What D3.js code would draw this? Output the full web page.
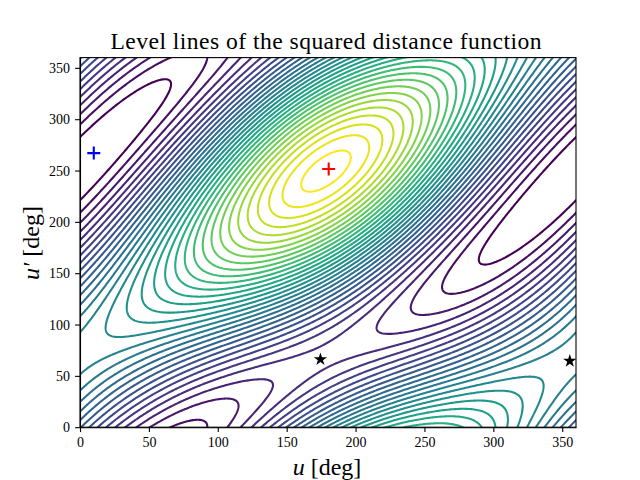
<!DOCTYPE html>
<html>
<head>
<meta charset="utf-8">
<script src="https://cdn.jsdelivr.net/npm/d3@7"></script>
<style>
    body { margin: 0; background: #fff; }
    svg { display: block; }
    text { font-family: "Liberation Serif", serif; fill: #000; }
    .tick text { font-size: 14px; }
    .domain, .tick line { stroke: #000; stroke-width: 1.1px; }
</style>
</head>
<body>
<svg id="chart" width="640" height="480"></svg>
<script>
// function level at every 30 deg, one row per u'
const uSamples = [0, 30, 60, 90, 120, 150, 180, 210, 240, 270, 300, 330];
const vSamples = [0, 30, 60, 90, 120, 150, 180, 210, 240, 270, 300, 330];
const levelRows = [
    [10.1, 5.4, 2.3, 1.9, 4.4, 9.0, 14.3, 18.7, 21.2, 21.4, 19.2, 15.1],
    [13.5, 9.7, 5.9, 3.6, 3.3, 5.0, 8.2, 11.7, 14.8, 16.9, 17.5, 16.4],
    [15.3, 13.6, 10.7, 7.7, 5.5, 4.6, 4.9, 6.4, 8.6, 11.4, 13.9, 15.4],
    [15.1, 16.1, 15.4, 13.3, 10.6, 7.8, 5.5, 4.2, 4.3, 6.1, 9.1, 12.5],
    [12.9, 16.6, 18.7, 18.9, 17.1, 13.9, 9.7, 5.7, 3.0, 2.6, 4.6, 8.5],
    [9.3, 14.9, 19.8, 22.8, 23.3, 21.1, 16.5, 10.6, 5.1, 1.8, 1.6, 4.4],
    [5.3, 11.4, 18.3, 24.1, 27.6, 27.6, 23.9, 17.4, 10.0, 3.9, 0.7, 1.3],
    [1.9, 7.2, 14.6, 22.5, 28.7, 31.5, 30.0, 24.5, 16.4, 8.3, 2.3, 0.1],
    [0.1, 3.2, 9.8, 18.3, 26.4, 32.0, 33.3, 29.8, 22.6, 13.9, 6.0, 1.0],
    [0.3, 0.7, 5.2, 12.7, 21.3, 28.7, 32.7, 32.0, 26.9, 19.1, 10.7, 3.9],
    [2.5, 0.2, 1.9, 7.2, 14.8, 22.7, 28.5, 30.4, 28.2, 22.6, 15.2, 8.0],
    [6.1, 2.0, 0.8, 3.2, 8.6, 15.5, 21.7, 25.6, 26.1, 23.4, 18.3, 12.1]
];
const contourLevels = d3.range(1, 34);
const xTicks = [0, 50, 100, 150, 200, 250, 300, 350];
const yTicks = [0, 50, 100, 150, 200, 250, 300, 350];
const plusMarks = [
    { u: 10, v: 267, color: '#0000ff' },
    { u: 180.5, v: 251.5, color: '#ff0000' }
];
const starMarks = [
    { u: 174.5, v: 66 },
    { u: 355.5, v: 64.5 }
];

const plot = { left: 80, right: 576, top: 57.6, bottom: 427.2 };
const x = d3.scaleLinear().domain([0, 360]).range([plot.left, plot.right]);
const y = d3.scaleLinear().domain([0, 360]).range([plot.bottom, plot.top]);
const svg = d3.select('#chart');

// periodic resampling of the 30 deg estimates, so that the level lines come out smooth
const overshoot = 5;
const fineAngles = d3.range(-overshoot, 360 + overshoot + 1);
const rad = Math.PI / 180;

const resample = (samples, angles, outAngles) => {
    const n = samples.length;
    const terms = [1, 2].map((k) => ({
        k,
        a: 2 / n * d3.sum(samples, (s, i) => s * Math.cos(k * angles[i] * rad)),
        b: 2 / n * d3.sum(samples, (s, i) => s * Math.sin(k * angles[i] * rad))
    }));
    const mean = d3.mean(samples);
    return outAngles.map((t) => mean + d3.sum(terms, ({ k, a, b }) => a * Math.cos(k * t * rad) + b * Math.sin(k * t * rad)));
};

const fineRows = levelRows.map((row) => resample(row, uSamples, fineAngles));
const fineColumns = fineAngles.map((_, i) => resample(fineRows.map((row) => row[i]), vSamples, fineAngles));
const fineValues = [];
fineAngles.forEach((_, j) => fineAngles.forEach((_, i) => fineValues.push(fineColumns[i][j])));

const contours = d3.contours()
    .size([fineAngles.length, fineAngles.length])
    .thresholds(contourLevels)(fineValues);

const color = d3.scaleSequential(d3.interpolateViridis).domain([1, 33]);

// contour coordinates sit half a cell off the samples
const line = d3.line()
    .x((d) => x(d[0] - 0.5 - overshoot))
    .y((d) => y(d[1] - 0.5 - overshoot));

svg.append('clipPath')
    .attr('id', 'plot-clip')
    .append('rect')
    .attr('x', plot.left)
    .attr('y', plot.top)
    .attr('width', plot.right - plot.left)
    .attr('height', plot.bottom - plot.top);

svg.append('g')
    .attr('clip-path', 'url(#plot-clip)')
    .attr('fill', 'none')
    .attr('stroke-width', 2.08)
    .selectAll('path')
    .data(contours)
    .enter()
    .append('path')
    .attr('stroke', ({ value }) => color(value))
    .attr('d', ({ coordinates }) => coordinates.flat().map((ring) => line(ring)).join(''));

// markers
const marks = svg.append('g');
marks.selectAll('.plus')
    .data(plusMarks)
    .enter()
    .append('path')
    .attr('class', 'plus')
    .attr('d', 'M-6.5,0H6.5M0,-6.5V6.5')
    .attr('fill', 'none')
    .attr('stroke', ({ color }) => color)
    .attr('stroke-width', 2.1)
    .attr('transform', ({ u, v }) => `translate(${x(u)}, ${y(v)})`);

marks.selectAll('.star')
    .data(starMarks)
    .enter()
    .append('path')
    .attr('class', 'star')
    .attr('d', d3.symbol().type(d3.symbolStar).size(55))
    .attr('fill', '#000')
    .attr('transform', ({ u, v }) => `translate(${x(u)}, ${y(v)})`);

// axes
svg.append('g')
    .attr('transform', `translate(0, ${plot.bottom})`)
    .call(d3.axisBottom(x).tickValues(xTicks).tickSize(4.9).tickPadding(5).tickSizeOuter(0));
svg.append('g')
    .attr('transform', `translate(${plot.left}, 0)`)
    .call(d3.axisLeft(y).tickValues(yTicks).tickSize(4.9).tickPadding(5).tickSizeOuter(0));
svg.append('rect')
    .attr('x', plot.left)
    .attr('y', plot.top)
    .attr('width', plot.right - plot.left)
    .attr('height', plot.bottom - plot.top)
    .attr('fill', 'none')
    .attr('stroke', '#000')
    .attr('stroke-width', 1.1);

// texts
svg.append('text')
    .attr('x', 326)
    .attr('y', 49)
    .attr('text-anchor', 'middle')
    .attr('font-size', 23.6)
    .attr('textLength', 431)
    .attr('lengthAdjust', 'spacing')
    .text('Level lines of the squared distance function');

const xLabel = svg.append('text')
    .attr('x', 327)
    .attr('y', 475)
    .attr('text-anchor', 'middle')
    .attr('font-size', 24);
xLabel.append('tspan').attr('font-style', 'italic').text('u');
xLabel.append('tspan').text(' [deg]');

const yLabel = svg.append('text')
    .attr('transform', 'translate(39, 243) rotate(-90)')
    .attr('text-anchor', 'middle')
    .attr('font-size', 24);
yLabel.append('tspan').attr('font-style', 'italic').text('u′');
yLabel.append('tspan').text(' [deg]');
</script>
</body>
</html>
